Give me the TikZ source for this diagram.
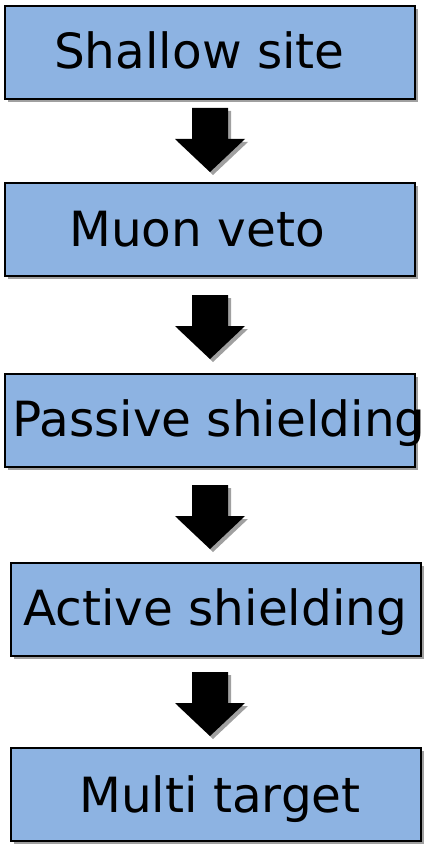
\documentclass[tikz,border=0pt]{standalone}
\usepackage{fontspec}
\setmainfont{DejaVu Sans}
\usetikzlibrary{shadows}
\definecolor{boxblue}{RGB}{141,179,226}
\definecolor{shadowgray}{RGB}{160,160,160}
\tikzset{
  box/.style={draw=black, line width=1.8pt, fill=boxblue, anchor=north west,
    minimum width=410pt, minimum height=93pt, inner sep=0pt,
    drop shadow={shadow xshift=3pt, shadow yshift=-3pt, fill=shadowgray, opacity=1}},
  lbl/.style={anchor=base west, inner sep=0pt, font=\fontsize{48.5}{56}\selectfont},
  downarrow/.pic={
    \fill[shadowgray] (-15,3) -- (21,3) -- (21,34) -- (38,34) -- (3,67) -- (-32,34) -- (-15,34) -- cycle;
    \fill[black] (-18,0) -- (18,0) -- (18,31) -- (35,31) -- (0,64) -- (-35,31) -- (-18,31) -- cycle;
  }
}
\begin{document}
\begin{tikzpicture}[x=1pt,y=-1pt]
\useasboundingbox (0,0) rectangle (424,850);
\node[box] (b1) at (4,5) {};
\node[box] (b2) at (4,182) {};
\node[box] (b3) at (4,373) {};
\node[box] (b4) at (10,562) {};
\node[box] (b5) at (10,747) {};
\node[lbl] (t1) at (54,69) {Shallow site};
\node[lbl] (t2) at (69,246) {Muon veto};
\node[lbl] (t3) at (12,436) {Passive shielding};
\node[lbl] (t4) at (23,625) {Active shielding};
\node[lbl] (t5) at (79,812) {Multi target};
\pic (a1) at (210,108) {downarrow};
\pic (a2) at (210,295) {downarrow};
\pic (a3) at (210,485) {downarrow};
\pic (a4) at (210,672) {downarrow};
\end{tikzpicture}
\end{document}
